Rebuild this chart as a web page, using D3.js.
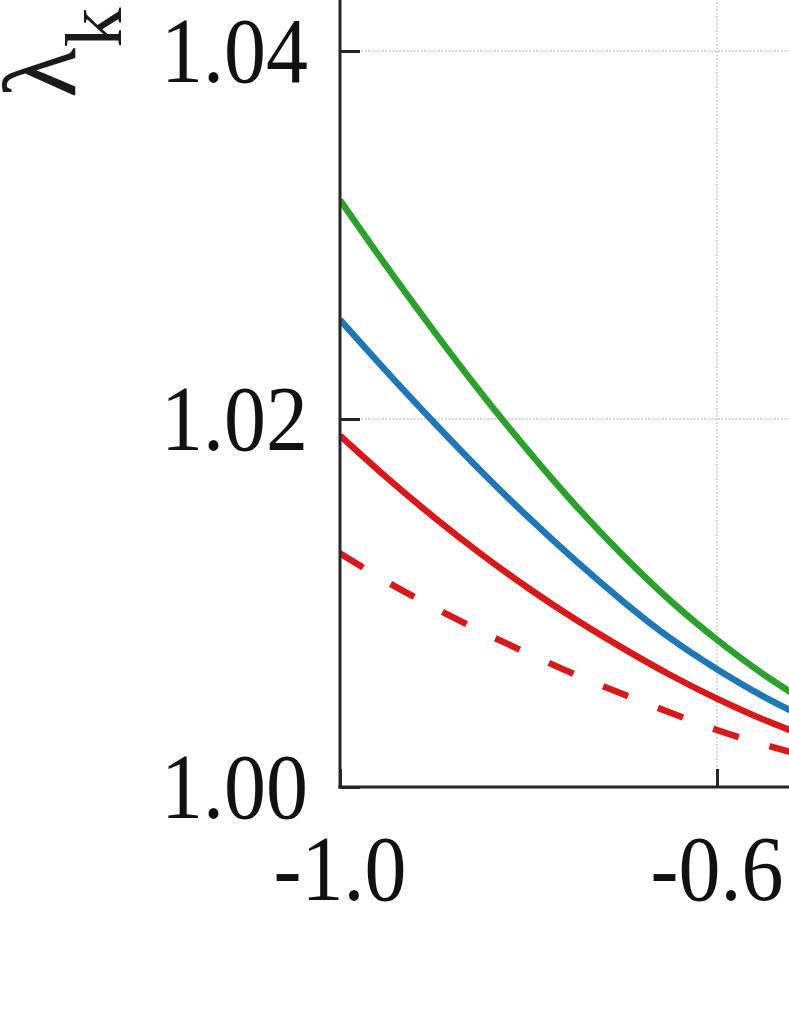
<!DOCTYPE html>
<html>
<head>
<meta charset="utf-8">
<script src="https://cdn.jsdelivr.net/npm/d3@7"></script>
<style>
html,body{margin:0;padding:0;background:#fff;}
svg{display:block;}
</style>
</head>
<body>
<svg id="chart" width="789" height="1021"></svg>
<script>
// ---- data ----
const xValues = [-1.0, -0.95, -0.9, -0.85, -0.8, -0.75, -0.7, -0.65, -0.6, -0.55, -0.5];
const greenSeries = [1.0319, 1.02825, 1.02475, 1.0214, 1.01825, 1.0153, 1.0126, 1.01015, 1.0080, 1.0061, 1.00445];
const blueSeries  = [1.0254, 1.02255, 1.0198, 1.01715, 1.01465, 1.0123, 1.0101, 1.0081, 1.0064, 1.0049, 1.0036];
const redSeries   = [1.0191, 1.0168, 1.01465, 1.01265, 1.0108, 1.0091, 1.00755, 1.0061, 1.0048, 1.00365, 1.00265];
const redDashed   = [1.0127, 1.01115, 1.00975, 1.00845, 1.00725, 1.0061, 1.00505, 1.00405, 1.0031, 1.0023, 1.0016];
const xTicks = [-1.0, -0.6];
const yTicks = [1.00, 1.02, 1.04];
const yLabel = "λ";
const yLabelSub = "k";

const series = [
  {values: greenSeries, color: "#2ca02c", dash: null},
  {values: blueSeries,  color: "#1f77b4", dash: null},
  {values: redSeries,   color: "#d7191c", dash: null},
  {values: redDashed,   color: "#d7191c", dash: "27,32"}
];

const W = 789, H = 1021;
const svg = d3.select("#chart");
svg.append("rect").attr("width", W).attr("height", H).attr("fill", "#fff");

const left = 340, bottom = 787;
const x = d3.scaleLinear().domain([-1.0, -0.5]).range([left, left + 942.5 * 0.5]);
const y = d3.scaleLinear().domain([1.00, 1.04]).range([bottom, 51]);

svg.append("clipPath").attr("id", "plotclip")
  .append("rect").attr("x", left).attr("y", -10).attr("width", W - left + 10).attr("height", bottom + 10);

// grid lines
const grid = svg.append("g").attr("class", "grid");
grid.selectAll("line.gy").data(yTicks.filter(d => d > 1.0)).join("line")
  .attr("x1", left).attr("x2", W + 5)
  .attr("y1", d => y(d)).attr("y2", d => y(d))
  .attr("stroke", "#c9c9c9").attr("stroke-width", 1.5).attr("stroke-dasharray", "2,1.5");
grid.selectAll("line.gx").data(xTicks.filter(d => d > -1.0)).join("line")
  .attr("x1", d => x(d)).attr("x2", d => x(d))
  .attr("y1", -5).attr("y2", bottom)
  .attr("stroke", "#c9c9c9").attr("stroke-width", 1.5).attr("stroke-dasharray", "2,1.5");

// lines
const line = d3.line().x((d, i) => x(xValues[i])).y(d => y(d)).curve(d3.curveNatural);
const plot = svg.append("g").attr("clip-path", "url(#plotclip)");
plot.selectAll("path.s").data(series).join("path")
  .attr("fill", "none")
  .attr("stroke", d => d.color)
  .attr("stroke-width", 6.5)
  .attr("stroke-dasharray", d => d.dash)
  .attr("d", d => line(d.values));

// axes (inward ticks)
const axisColor = "#262626";
const yAxis = svg.append("g").attr("transform", `translate(${left},0)`)
  .call(d3.axisLeft(y).tickValues(yTicks).tickSize(-20).tickFormat(""));
const xAxis = svg.append("g").attr("transform", `translate(0,${bottom})`)
  .call(d3.axisBottom(x).tickValues(xTicks).tickSize(-18).tickFormat(""));
[yAxis, xAxis].forEach(g => {
  g.select(".domain").remove();
  g.selectAll(".tick line").attr("stroke", axisColor).attr("stroke-width", 3);
});
svg.append("line").attr("x1", left).attr("x2", left).attr("y1", 0).attr("y2", bottom + 1.5)
  .attr("stroke", axisColor).attr("stroke-width", 3);
svg.append("line").attr("x1", left - 1.5).attr("x2", W + 5).attr("y1", bottom).attr("y2", bottom)
  .attr("stroke", axisColor).attr("stroke-width", 3);

// tick labels
const font = "'Liberation Serif', 'Times New Roman', serif";
const fs = 84, sy = 1.11;
svg.append("g").selectAll("text").data(yTicks).join("text")
  .attr("transform", d => `translate(308,${y(d) + 31}) scale(1,${sy})`)
  .attr("text-anchor", "end")
  .attr("font-family", font).attr("font-size", fs).attr("fill", "#111")
  .text(d => d.toFixed(2));
svg.append("g").selectAll("text").data(xTicks).join("text")
  .attr("transform", d => `translate(${x(d)},900) scale(1,${sy})`)
  .attr("text-anchor", "middle")
  .attr("font-family", font).attr("font-size", fs).attr("fill", "#111")
  .text(d => d.toFixed(1));

// y-axis label (rotated)
const lab = svg.append("text")
  .attr("transform", "translate(75,98) rotate(-90)")
  .attr("font-family", font).attr("font-size", 104).attr("fill", "#1a1a1a");
lab.append("tspan").text(yLabel);
lab.append("tspan").attr("dy", 46).attr("font-size", 80).text(yLabelSub);
</script>
</body>
</html>
